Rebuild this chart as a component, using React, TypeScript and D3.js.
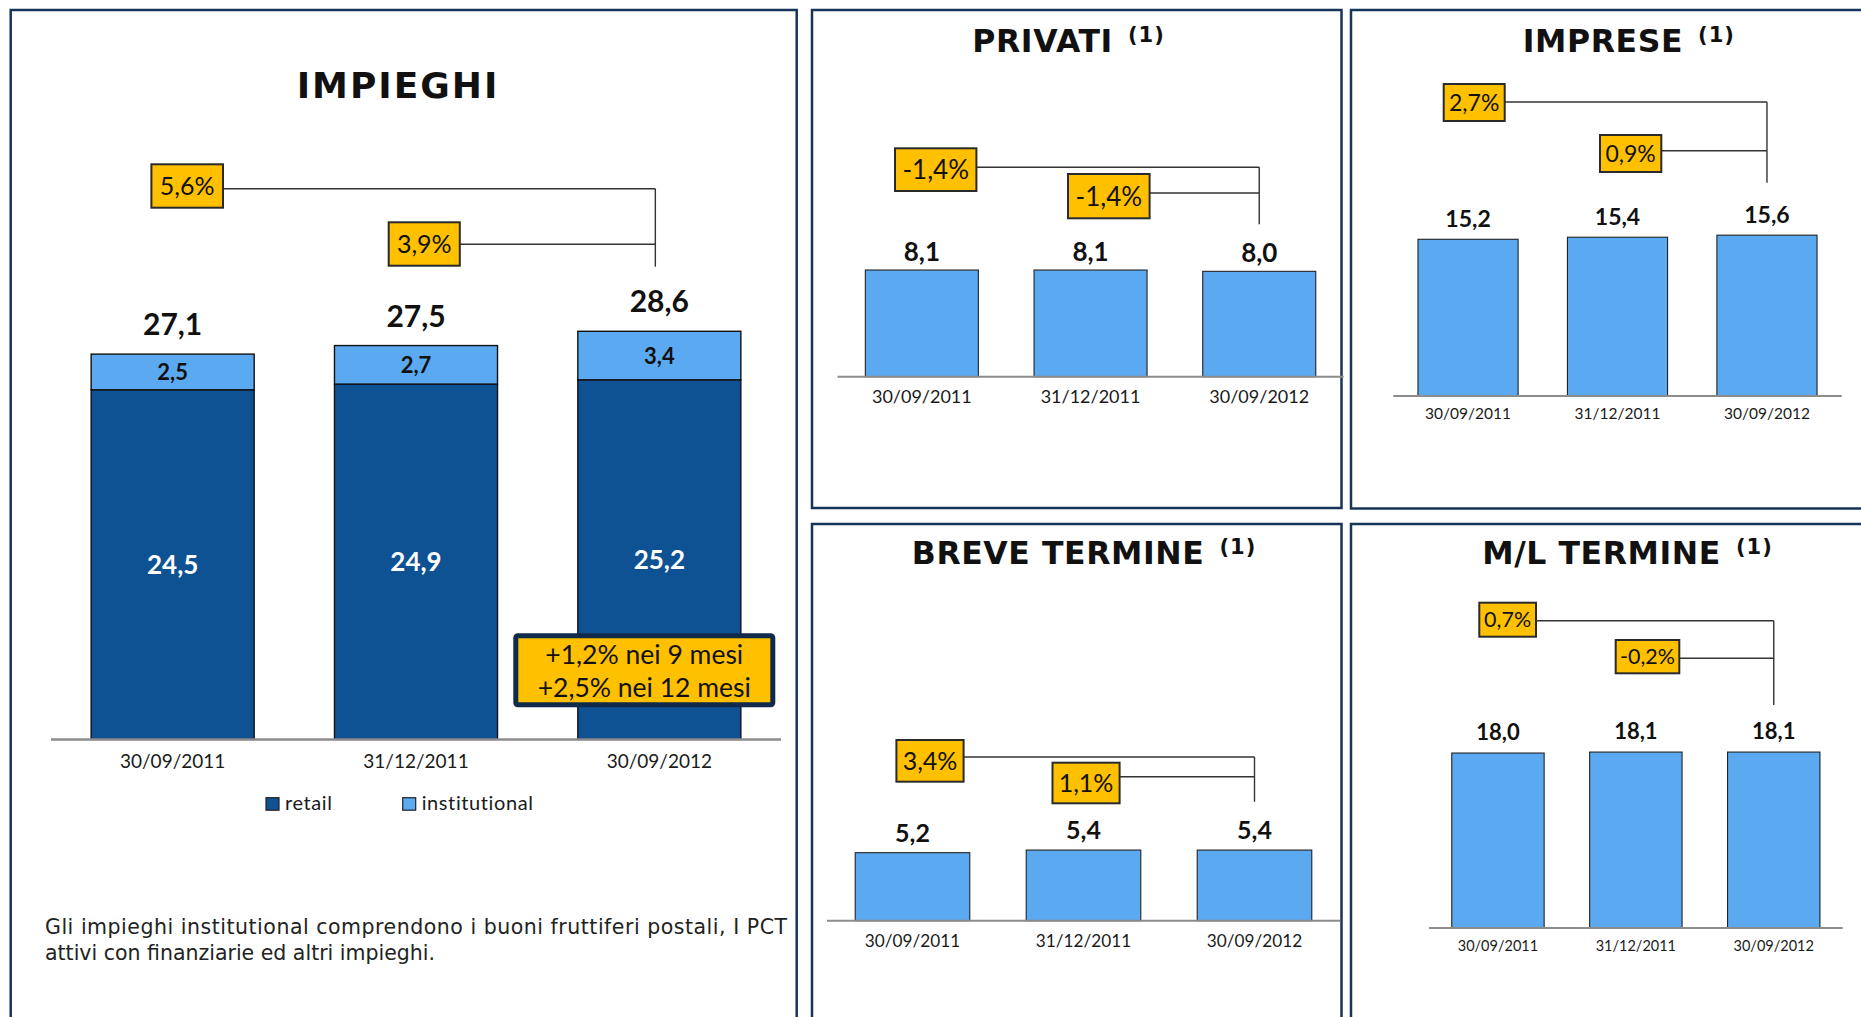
import React from "react";
import * as d3 from "d3";

// ---------- DATA ----------
const dates = ["30/09/2011", "31/12/2011", "30/09/2012"];
const retail = [24.5, 24.9, 25.2];
const institutional = [2.5, 2.7, 3.4];
const impieghiTotals = [27.1, 27.5, 28.6];
const impieghiChanges = ["5,6%", "3,9%"];
const privati = [8.1, 8.1, 8.0];
const privatiChanges = ["-1,4%", "-1,4%"];
const imprese = [15.2, 15.4, 15.6];
const impreseChanges = ["2,7%", "0,9%"];
const breveTermine = [5.2, 5.4, 5.4];
const breveChanges = ["3,4%", "1,1%"];
const mlTermine = [18.0, 18.1, 18.1];
const mlChanges = ["0,7%", "-0,2%"];
const seriesKeys = ["retail", "institutional"];
const growthNotes = ["+1,2% nei 9 mesi", "+2,5% nei 12 mesi"];
const footnote = [
  "Gli impieghi institutional comprendono i buoni fruttiferi postali, I PCT",
  "attivi con finanziarie ed altri impieghi.",
];

// ---------- STYLE ----------
const NUM_FONT = "Lato, 'Open Sans', sans-serif";
const TITLE_FONT = "'DejaVu Sans', Verdana, sans-serif";
const DARK_BLUE = "#0F5294";
const LIGHT_BLUE = "#5BA9F0";
const YELLOW = "#FFC000";
const FRAME = "#17355A";
const AXIS = "#8c8c8c";

const fmt = (v: number) => v.toFixed(1).replace(".", ",");

type CalloutLayout = { x: number; y: number; w: number; h: number; lineY: number; size: number };

function Callout({ c, label, lineEnd }: { c: CalloutLayout; label: string; lineEnd: number }) {
  return (
    <g>
      <line x1={c.x + c.w} x2={lineEnd} y1={c.lineY} y2={c.lineY} stroke="#333" strokeWidth={1.4} />
      <rect x={c.x} y={c.y} width={c.w} height={c.h} fill={YELLOW} stroke="#2a2a2a" strokeWidth={2} />
      <text
        x={c.x + c.w / 2}
        y={c.y + c.h / 2 + c.size * 0.36}
        textAnchor="middle"
        fontFamily={NUM_FONT}
        fontSize={c.size}
        fill="#111"
      >
        {label}
      </text>
    </g>
  );
}

type PanelLayout = {
  frame: [number, number, number, number];
  title: string;
  titleCx: number;
  titleY: number;
  axis: [number, number];
  baseline: number;
  yMax: number;
  yTop: number;
  valueSize: number;
  valueGap: number;
  xLabelSize: number;
  xLabelY: number;
  callouts: CalloutLayout[];
  vEnd: number;
};

function Frame({ f }: { f: [number, number, number, number] }) {
  return <rect x={f[0]} y={f[1]} width={f[2]} height={f[3]} fill="#fff" stroke={FRAME} strokeWidth={2.5} />;
}

function Title({ text, cx, y, size, sup }: { text: string; cx: number; y: number; size: number; sup?: boolean }) {
  return (
    <text x={cx} y={y} textAnchor="middle" fontFamily={TITLE_FONT} fontWeight="bold" fontSize={size} fill="#111" letterSpacing={sup ? 0.6 : 2}>
      {text}
      {sup && (
        <tspan dx={15} dy={-10} fontSize={21} letterSpacing={1}>
          (1)
        </tspan>
      )}
    </text>
  );
}

function SmallPanel({ L, values, changes }: { L: PanelLayout; values: number[]; changes: string[] }) {
  const x = d3.scaleBand<string>().domain(dates).range(L.axis).paddingInner(0.33).paddingOuter(0.165);
  const y = d3.scaleLinear().domain([0, L.yMax]).range([L.baseline, L.yTop]);
  const bw = x.bandwidth();
  const lastCx = (x(dates[dates.length - 1]) as number) + bw / 2;
  return (
    <g>
      <Frame f={L.frame} />
      <Title text={L.title} cx={L.titleCx} y={L.titleY} size={31.5} sup />
      {values.map((v, i) => (
        <g key={i}>
          <rect
            x={x(dates[i]) as number}
            y={y(v)}
            width={bw}
            height={y(0) - y(v)}
            fill={LIGHT_BLUE}
            stroke="#222"
            strokeWidth={1.1}
          />
          <text
            x={(x(dates[i]) as number) + bw / 2}
            y={y(v) - L.valueGap}
            textAnchor="middle"
            fontFamily={NUM_FONT}
            fontWeight="bold"
            fontSize={L.valueSize}
            fill="#111"
          >
            {fmt(v)}
          </text>
          <text
            x={(x(dates[i]) as number) + bw / 2}
            y={L.xLabelY}
            textAnchor="middle"
            fontFamily={NUM_FONT}
            fontSize={L.xLabelSize}
            fill="#1a1a1a"
          >
            {dates[i]}
          </text>
        </g>
      ))}
      <line x1={L.axis[0]} x2={L.axis[1]} y1={L.baseline} y2={L.baseline} stroke={AXIS} strokeWidth={2} />
      <line x1={lastCx} x2={lastCx} y1={L.callouts[0].lineY} y2={L.vEnd} stroke="#333" strokeWidth={1.4} />
      {L.callouts.map((c, i) => (
        <Callout key={i} c={c} label={changes[i]} lineEnd={lastCx} />
      ))}
    </g>
  );
}

const privatiLayout: PanelLayout = {
  frame: [812, 10, 529.5, 498],
  title: "PRIVATI",
  titleCx: 1068.5,
  titleY: 52.3,
  axis: [837.5, 1343.6],
  baseline: 376.7,
  yMax: 10,
  yTop: 245.0,
  valueSize: 26,
  valueGap: 9,
  xLabelSize: 18,
  xLabelY: 403.3,
  callouts: [
    { x: 895, y: 148.3, w: 81.4, h: 42.7, lineY: 167.3, size: 26 },
    { x: 1068, y: 174, w: 81.6, h: 44.3, lineY: 193, size: 26 },
  ],
  vEnd: 224.3,
};

const impreseLayout: PanelLayout = {
  frame: [1351, 10, 530, 498.5],
  title: "IMPRESE",
  titleCx: 1628.8,
  titleY: 52.3,
  axis: [1393.3, 1841.7],
  baseline: 396,
  yMax: 20,
  yTop: 189.8,
  valueSize: 23,
  valueGap: 12,
  xLabelSize: 15.5,
  xLabelY: 419,
  callouts: [
    { x: 1443.7, y: 84, w: 61, h: 37, lineY: 102, size: 23 },
    { x: 1600, y: 135, w: 61.3, h: 37, lineY: 150.7, size: 23 },
  ],
  vEnd: 182.7,
};

const breveLayout: PanelLayout = {
  frame: [812, 524, 529.5, 520],
  title: "BREVE TERMINE",
  titleCx: 1084,
  titleY: 564,
  axis: [827, 1340],
  baseline: 920.7,
  yMax: 10,
  yTop: 789.9,
  valueSize: 25,
  valueGap: 11,
  xLabelSize: 17.2,
  xLabelY: 946.7,
  callouts: [
    { x: 896.4, y: 740, w: 67.2, h: 41.7, lineY: 757, size: 25 },
    { x: 1052.5, y: 762.7, w: 67.1, h: 40.6, lineY: 776.7, size: 25 },
  ],
  vEnd: 801.7,
};

const mlLayout: PanelLayout = {
  frame: [1351, 524, 530, 520],
  title: "M/L TERMINE",
  titleCx: 1627.5,
  titleY: 564,
  axis: [1429, 1842.7],
  baseline: 928,
  yMax: 20,
  yTop: 733.6,
  valueSize: 22,
  valueGap: 13,
  xLabelSize: 14.5,
  xLabelY: 950.7,
  callouts: [
    { x: 1479.3, y: 602.7, w: 56.7, h: 34, lineY: 620.7, size: 21.5 },
    { x: 1615.7, y: 640, w: 63.6, h: 33.3, lineY: 658.3, size: 21.5 },
  ],
  vEnd: 705,
};

function ImpieghiPanel() {
  const x = d3.scaleBand<string>().domain(dates).range([51, 781]).paddingInner(0.33).paddingOuter(0.165);
  const y = d3.scaleLinear().domain([0, 30]).range([739.4, 311.3]);
  const bw = x.bandwidth();
  const rows = dates.map((d, i) => ({ date: d, retail: retail[i], institutional: institutional[i] }));
  const stacked = d3.stack<any>().keys(seriesKeys)(rows);
  const colors: Record<string, string> = { retail: DARK_BLUE, institutional: LIGHT_BLUE };
  const lastCx = (x(dates[2]) as number) + bw / 2;
  const callouts: CalloutLayout[] = [
    { x: 151.4, y: 164.3, w: 71.6, h: 43.4, lineY: 188.7, size: 25 },
    { x: 388.7, y: 222.3, w: 71.1, h: 43.4, lineY: 244.3, size: 25 },
  ];
  const top = stacked[stacked.length - 1];
  return (
    <g>
      <Frame f={[10.7, 10, 786, 1030]} />
      <Title text="IMPIEGHI" cx={398} y={98} size={36} />
      {stacked.map((s) => (
        <g key={s.key}>
          {s.map((p, i) => {
            const x0 = x(dates[i]) as number;
            const yTop = y(p[1]);
            const yBot = y(p[0]);
            const isRetail = s.key === "retail";
            return (
              <g key={i}>
                <rect x={x0} y={yTop} width={bw} height={yBot - yTop} fill={colors[s.key]} stroke="#111" strokeWidth={1.4} />
                <text
                  x={x0 + bw / 2}
                  y={(yTop + yBot) / 2 + (isRetail ? 9 : 8)}
                  textAnchor="middle"
                  fontFamily={NUM_FONT}
                  fontWeight="bold"
                  fontSize={isRetail ? 26 : 22}
                  fill={isRetail ? "#fff" : "#111"}
                >
                  {fmt(p[1] - p[0])}
                </text>
              </g>
            );
          })}
        </g>
      ))}
      {top.map((p, i) => (
        <text
          key={i}
          x={(x(dates[i]) as number) + bw / 2}
          y={y(p[1]) - 19}
          textAnchor="middle"
          fontFamily={NUM_FONT}
          fontWeight="bold"
          fontSize={30}
          fill="#111"
        >
          {fmt(impieghiTotals[i])}
        </text>
      ))}
      <line x1={51} x2={781} y1={y(0)} y2={y(0)} stroke={AXIS} strokeWidth={2.5} />
      {dates.map((d) => (
        <text key={d} x={(x(d) as number) + bw / 2} y={768} textAnchor="middle" fontFamily={NUM_FONT} fontSize={19} fill="#1a1a1a">
          {d}
        </text>
      ))}
      <line x1={lastCx - 4} x2={lastCx - 4} y1={callouts[0].lineY} y2={266.7} stroke="#333" strokeWidth={1.4} />
      {callouts.map((c, i) => (
        <Callout key={i} c={c} label={impieghiChanges[i]} lineEnd={lastCx - 4} />
      ))}
      {/* growth note box */}
      <rect x={515.8} y={635.8} width={257} height={69} rx={2} fill={YELLOW} stroke="#0F2A4A" strokeWidth={5} />
      {growthNotes.map((t, i) => (
        <text key={i} x={644.3} y={664} textAnchor="middle" dy={i * 33.4} fontFamily={NUM_FONT} fontSize={26.5} fill="#111">
          {t}
        </text>
      ))}
      {/* legend */}
      {seriesKeys.map((k, i) => (
        <g key={k}>
          <rect x={266 + i * 136.7} y={797.7} width={13} height={12.5} fill={colors[k]} stroke="#222" strokeWidth={1.2} />
          <text x={285 + i * 136.7} y={810} fontFamily={NUM_FONT} fontSize={20} letterSpacing={0.6} fill="#1a1a1a">
            {k}
          </text>
        </g>
      ))}
      {/* footnote */}
      <text x={45} y={934.3} fontFamily={TITLE_FONT} fontSize={20.5} fill="#222" textLength={742} lengthAdjust="spacing">
        {footnote[0]}
      </text>
      <text x={45} y={960} fontFamily={TITLE_FONT} fontSize={20.5} fill="#222">
        {footnote[1]}
      </text>
    </g>
  );
}

export default function App() {
  return (
    <svg
      width={1861}
      height={1017}
      style={{ position: "absolute", left: 0, top: 0, background: "#fff" }}
      xmlns="http://www.w3.org/2000/svg"
    >
      <rect x={0} y={0} width={1861} height={1017} fill="#fff" />
      <ImpieghiPanel />
      <SmallPanel L={privatiLayout} values={privati} changes={privatiChanges} />
      <SmallPanel L={impreseLayout} values={imprese} changes={impreseChanges} />
      <SmallPanel L={breveLayout} values={breveTermine} changes={breveChanges} />
      <SmallPanel L={mlLayout} values={mlTermine} changes={mlChanges} />
    </svg>
  );
}
